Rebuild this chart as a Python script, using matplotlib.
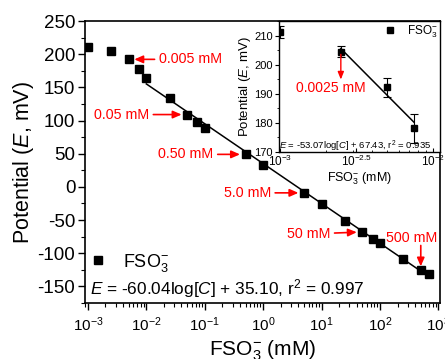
import numpy as np
import matplotlib.pyplot as plt
from matplotlib.ticker import MultipleLocator, LogLocator, NullFormatter

plt.rcParams['font.family'] = ['Liberation Sans', 'DejaVu Sans']
plt.rcParams['mathtext.fontset'] = 'custom'
plt.rcParams['mathtext.rm'] = 'Liberation Sans'
plt.rcParams['mathtext.it'] = 'Liberation Sans:italic'
plt.rcParams['axes.unicode_minus'] = False

## data
conc = [0.001, 0.0025, 0.005, 0.0075, 0.01, 0.025, 0.05, 0.075, 0.1, 0.5, 1,
        5, 10, 25, 50, 75, 100, 250, 500, 700]
potential = [211.3, 204.5, 192.2, 178.2, 164, 134, 109, 98, 89, 49, 33,
             -9, -26, -51, -68, -78, -84, -108, -126, -132]

# fit of the main plot
slope, intercept = -60.04, 35.10
fit_range = [0.01, 750]

# inset (low concentrations)
inset_conc = [0.001, 0.0025, 0.005, 0.0075]
inset_pot = [211.3, 204.5, 192.2, 178.2]
inset_err = [2.0, 1.8, 3.3, 5.0]
inset_slope, inset_intercept = -53.07, 67.43
inset_fit_range = [0.0025, 0.0075]

# arrows labels: (label, index of point, text offset in pixels, ha)
notes = [("0.005 mM", 2, (30, 0), 'left'),
         ("0.05 mM", 6, (-38, 0), 'right'),
         ("0.50 mM", 9, (-32, 0), 'right'),
         ("5.0 mM", 11, (-33, 0), 'right'),
         ("50 mM", 14, (-32, -2), 'right')]

fig = plt.figure(figsize=(4.45, 3.59), dpi=100)
ax = fig.add_axes([0.191, 0.156, 0.798, 0.7855])

ax.plot(conc, potential, 's', color='black', ms=5.5, label='FSO$_3^{-}$')
fx = np.array(fit_range)
ax.plot(fx, slope * np.log10(fx) + intercept, color='black', lw=1.1)

for label, i, off, ha in notes:
    ax.annotate(label, xy=(conc[i], potential[i]), xytext=off, textcoords='offset pixels',
                ha=ha, va='center', color='red', fontsize=10.3,
                arrowprops=dict(arrowstyle='-|>,head_length=0.5,head_width=0.22', color='red',
                                lw=1.2, shrinkA=1, shrinkB=4))

# 500 mM, vertical arrow
ax.annotate('', xy=(conc[18], potential[18]), xytext=(0, 25), textcoords='offset pixels',
            arrowprops=dict(arrowstyle='-|>,head_length=0.5,head_width=0.22', color='red',
                            lw=1.2, shrinkA=0, shrinkB=3))
ax.annotate("500 mM", xy=(conc[18], potential[18]), xytext=(-9, 32), textcoords='offset pixels',
            ha='center', va='center', color='red', fontsize=10.3)

ax.set_xscale('log')
ax.set_xlim(10**-3.05, 10**3.03)
ax.set_ylim(-175, 250)
ax.yaxis.set_major_locator(MultipleLocator(50))
ax.yaxis.set_minor_locator(MultipleLocator(25))
ax.xaxis.set_major_locator(LogLocator(base=10, numticks=20))
ax.xaxis.set_minor_locator(LogLocator(base=10, subs=np.arange(2, 10), numticks=20))
ax.xaxis.set_minor_formatter(NullFormatter())
ax.tick_params(which='major', direction='out', length=5, width=1)
ax.tick_params(which='minor', direction='out', length=3, width=0.8)
ax.tick_params(axis='y', labelsize=13.5, pad=2)
ax.tick_params(axis='x', labelsize=11, pad=4)
for s in ax.spines.values():
    s.set_linewidth(1.2)

ax.set_xlabel('FSO$_3^{-}$ (mM)', fontsize=15, labelpad=3.5)
ax.set_ylabel('Potential ($E$, mV)', fontsize=15.5, labelpad=1)

ax.legend(loc='center left', bbox_to_anchor=(0.011, 0.143), frameon=False, fontsize=13,
          borderpad=0, borderaxespad=0, handletextpad=0.9, handlelength=1.0)
ax.text(0.014, 0.053, '$E$ = -60.04log[$C$] + 35.10, r$^2$ = 0.997', transform=ax.transAxes,
        fontsize=12.4, va='center', ha='left')

## inset
axi = fig.add_axes([0.627, 0.5766, 0.362, 0.3649])
axi.errorbar(inset_conc, inset_pot, yerr=inset_err, fmt='none', ecolor='black',
             capsize=3, elinewidth=0.8, capthick=0.8)
axi.plot(inset_conc, inset_pot, 's', color='black', ms=5, label='FSO$_3^{-}$')
ix = np.array(inset_fit_range)
axi.plot(ix, inset_slope * np.log10(ix) + inset_intercept, color='black', lw=1.1)

axi.annotate('', xy=(inset_conc[1], inset_pot[1]), xytext=(0, -28), textcoords='offset pixels',
             arrowprops=dict(arrowstyle='<|-,head_length=0.45,head_width=0.18', color='red',
                             lw=1.0, shrinkA=0, shrinkB=2))
axi.annotate("0.0025 mM", xy=(inset_conc[1], inset_pot[1]), xytext=(-10, -36),
             textcoords='offset pixels', ha='center', va='center', color='red', fontsize=10)

axi.set_xscale('log')
axi.set_xlim(10**-3.005, 10**-1.955)
axi.set_ylim(170, 215)
axi.set_xticks([10**-3, 10**-2.5, 10**-2])
axi.set_xticklabels(['10$^{-3}$', '10$^{-2.5}$', '10$^{-2}$'])
axi.xaxis.set_minor_locator(LogLocator(base=10, subs=np.arange(2, 10), numticks=10))
axi.xaxis.set_minor_formatter(NullFormatter())
axi.yaxis.set_major_locator(MultipleLocator(10))
axi.yaxis.set_minor_locator(MultipleLocator(5))
axi.tick_params(which='major', direction='out', length=3, width=0.8, pad=1.5)
axi.tick_params(which='minor', direction='out', length=1.8, width=0.6)
axi.tick_params(axis='x', which='both', direction='in', labelsize=8.5)
axi.tick_params(axis='y', labelsize=8)
for s in axi.spines.values():
    s.set_linewidth(1.0)
axi.set_xlabel('FSO$_3^{-}$ (mM)', fontsize=9, labelpad=1)
axi.set_ylabel('Potential ($E$, mV)', fontsize=9.5, labelpad=1)
axi.legend(loc='center left', bbox_to_anchor=(0.654, 0.918), frameon=False, fontsize=8.5,
           borderpad=0, borderaxespad=0, handletextpad=0.88, handlelength=1.0)
axi.text(0.0, 0.045, '$E$ = -53.07log[$C$] + 67.43, r$^2$ = 0.935', transform=axi.transAxes,
         fontsize=6.8, va='center', ha='left')

fig.savefig('out.png', dpi=100)
